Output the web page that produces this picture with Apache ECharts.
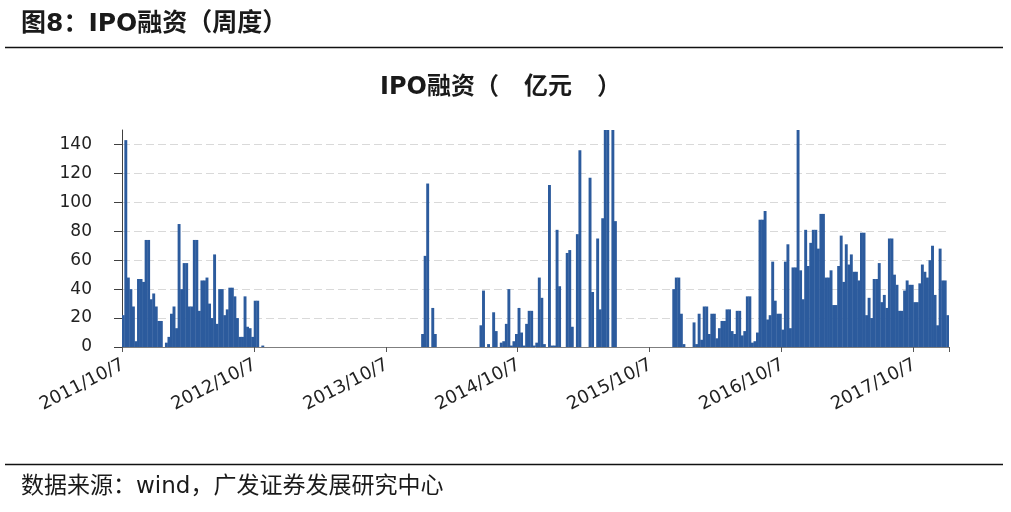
<!DOCTYPE html>
<html>
<head>
<meta charset="utf-8">
<script src="https://cdn.jsdelivr.net/npm/echarts@6/dist/echarts.min.js"></script>
<style>
html,body{margin:0;padding:0;background:#fff;}
#c{width:1011px;height:512px;}
</style>
</head>
<body>
<div id="c"></div>
<script>
// ---- data (weekly IPO financing, 100 million yuan) ----
const startDate = '2011/10/7';
const tickLabels = ['2011/10/7','2012/10/7','2013/10/7','2014/10/7','2015/10/7','2016/10/7','2017/10/7'];
const tickIndex = [0, 52, 104, 156, 208, 260, 312];
const yTicks = [0, 20, 40, 60, 80, 100, 120, 140];

// weeks 0-55 (2011/10 - 2012/11)
const vals2011 = [22,143,48,40,28,4,47,47,45,74,74,33,37,28,18,18,0,3,7,23,28,13,85,40,58,58,28,28,74,74,
  25,46,46,48,30,20,64,16,40,40,22,26,41,41,35,20,7,7,35,14,13,7,32,32,0,1];
// weeks 56-117 (IPO pause)
const valsPause1 = [0,0,0,0,0,0,0,0,0,0, 0,0,0,0,0,0,0,0,0,0, 0,0,0,0,0,0,0,0,0,0,
  0,0,0,0,0,0,0,0,0,0, 0,0,0,0,0,0,0,0,0,0, 0,0,0,0,0,0,0,0,0,0, 0,0];
// weeks 118-140
const vals2014a = [9,63,113,0,27,9, 0,0,0,0,0,0,0,0,0,0,0,0,0,0,0,0,0];
// weeks 141-194
const vals2014b = [15,39,0,2,0,24,11,0,3,4,16,40,1,4,9,27,10,1,16,25,25,1,3,48,
  34,2,0,112,1,1,81,42,0,0,65,67,14,0,78,136,0,0,0,117,38,0,75,26,89,180,180,0,165,87];
// weeks 195-216 (IPO pause)
const valsPause2 = [0,0,0,0,0,0,0,0,0,0, 0,0,0,0,0,0,0,0,0,0, 0,0];
// weeks 217-260
const vals2016 = [40,48,48,23,2,0,0,0,17,2,23,5,28,28,9,23,23,6,13,18,18,26,26,11,9,25,25,8,11,35,35,3,4,10,
  88,88,94,19,22,59,32,23,23,12];
// weeks 261-325
const vals2017 = [59,71,13,55,55,175,53,33,81,56,72,81,81,68,92,92,48,48,53,29,29,56,77,45,71,57,64,52,52,46,
  79,79,22,34,20,47,47,58,31,36,27,75,75,50,43,25,25,39,46,43,43,31,31,44,57,52,48,60,70,36,15,68,46,46,22];

const ipoValues = [].concat(vals2011, valsPause1, vals2014a, vals2014b, valsPause2, vals2016, vals2017);

// weekly category labels
const weeks = [];
(function(){
  const p = startDate.split('/').map(Number);
  const d0 = new Date(p[0], p[1]-1, p[2]);
  for (let i = 0; i < ipoValues.length; i++) {
    const d = new Date(d0.getTime() + i*7*86400000);
    weeks.push(d.getFullYear() + '/' + (d.getMonth()+1) + '/' + d.getDate());
  }
})();

const chart = echarts.init(document.getElementById('c'), null, {width:1011, height:512});
const latinCjk = '"DejaVu Sans", "Noto Sans CJK SC", sans-serif';
const showIdx = function(i){ return tickIndex.indexOf(i) >= 0; };
const barColor = '#2c5b9d';

chart.setOption({
  animation: false,
  backgroundColor: '#ffffff',
  title: [
    {text: '图8：IPO融资（周度）', left: 21, top: 12, padding: 0,
     textStyle: {fontFamily: latinCjk, fontWeight: 'bold', fontSize: 25, color: '#1a1a1a'}},
    {text: 'IPO融资（   亿元   ）', left: 380, top: 76, padding: 0,
     textStyle: {fontFamily: latinCjk, fontWeight: 'bold', fontSize: 24, color: '#1a1a1a'}},
    {text: '数据来源：wind，广发证券发展研究中心', left: 21, top: 476, padding: 0,
     textStyle: {fontFamily: latinCjk, fontWeight: 'normal', fontSize: 23, color: '#1a1a1a'}}
  ],
  graphic: [
    {type: 'line', shape: {x1: 5, y1: 47.5, x2: 1003, y2: 47.5}, style: {stroke: '#111', lineWidth: 1.5}},
    {type: 'line', shape: {x1: 5, y1: 464.5, x2: 1003, y2: 464.5}, style: {stroke: '#111', lineWidth: 1.5}}
  ],
  grid: {left: 122, right: 62, top: 130, bottom: 165, containLabel: false},
  xAxis: {
    type: 'category',
    data: weeks,
    boundaryGap: true,
    axisLine: {show: true, lineStyle: {color: '#7f7f7f', width: 1}},
    axisTick: {show: true, interval: function(i){ return showIdx(i); }, length: 5, lineStyle: {color: '#555'}},
    axisLabel: {
      interval: function(i){ return showIdx(i); },
      formatter: function(v, i){ const k = tickIndex.indexOf(i); return k >= 0 ? tickLabels[k] : ''; },
      rotate: 27, margin: 17,
      fontFamily: 'DejaVu Sans', fontSize: 18, color: '#222'
    },
    splitLine: {show: false}
  },
  yAxis: {
    type: 'value',
    min: 0, max: 150,
    axisLine: {show: true, lineStyle: {color: '#404040', width: 1}},
    axisTick: {show: true, length: 8, lineStyle: {color: '#404040'}, customValues: yTicks},
    axisLabel: {customValues: yTicks, margin: 30, fontFamily: 'DejaVu Sans', fontSize: 17, color: '#222'},
    splitLine: {show: true, showMinLine: false,
      lineStyle: {color: '#d9d9d9', type: [8, 4], width: 1}}
  },
  series: [{
    type: 'bar',
    data: ipoValues,
    barWidth: '115%',
    itemStyle: {color: barColor},
    clip: true
  }]
});
</script>
</body>
</html>
